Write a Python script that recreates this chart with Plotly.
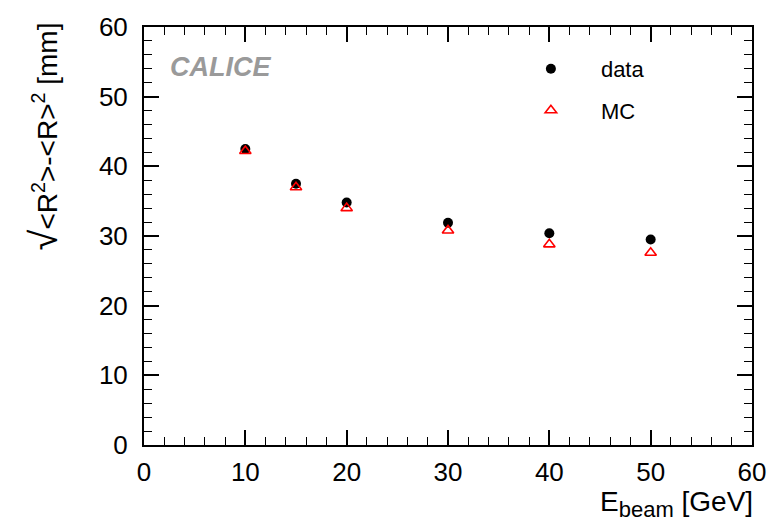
import plotly.graph_objects as go

energy = [10, 15, 20, 30, 40, 50]
data_vals = [42.5, 37.5, 34.8, 31.9, 30.4, 29.5]
mc_vals = [42.2, 37.0, 34.0, 30.8, 28.8, 27.6]

x_ticks = [0, 10, 20, 30, 40, 50, 60]
y_ticks = [0, 10, 20, 30, 40, 50, 60]

FONT = "Liberation Sans, Arial, sans-serif"

fig = go.Figure()
fig.add_trace(go.Scatter(
    x=energy, y=data_vals, mode="markers", name="data", legendgroup="a",
    marker=dict(symbol="circle", size=10, color="black"),
))
fig.add_trace(go.Scatter(
    x=energy, y=mc_vals, mode="markers", name="MC", legendgroup="b",
    marker=dict(symbol="triangle-up-open", size=10, color="red",
                line=dict(width=1.6, color="red")),
))

axis_common = dict(
    showgrid=False, zeroline=False, showline=True, linecolor="black",
    linewidth=2, mirror="allticks", ticks="inside", ticklen=15,
    tickwidth=1.5, tickcolor="black",
    tickfont=dict(family=FONT, size=26, color="black"),
    minor=dict(ticks="inside", ticklen=8, tickwidth=1.2, tickcolor="black", dtick=2),
)

fig.update_xaxes(range=[0, 60], tickvals=x_ticks, ticklabelstandoff=3, **axis_common)
fig.update_yaxes(range=[0, 60], tickvals=y_ticks, ticklabelstandoff=9, **axis_common)

fig.update_layout(
    width=780, height=523,
    margin=dict(l=144, r=28, t=20, b=78),
    paper_bgcolor="white", plot_bgcolor="white",
    font=dict(family=FONT, color="black"),
    showlegend=True,
    legend=dict(x=0.587, y=0.95, xanchor="left", yanchor="top",
                bgcolor="rgba(0,0,0,0)", font=dict(family=FONT, size=22),
                itemwidth=90, tracegroupgap=10),
    annotations=[
        dict(text="<b><i>CALICE</i></b>", xref="paper", yref="paper", x=0.04, y=0.905,
             xanchor="left", yanchor="middle", showarrow=False,
             font=dict(family=FONT, size=27, color="#9a9a9a")),
        dict(text="E<sub><span style='font-size:22px'>beam</span></sub> [GeV]", xref="paper", yref="paper",
             x=1.005, y=-0.14, xanchor="right", yanchor="middle", showarrow=False,
             font=dict(family=FONT, size=28)),
        dict(text="<span style='font-size:38px'>√</span>&lt;R<sup>2</sup>&gt;-&lt;R&gt;<sup>2</sup> [mm]",
             xref="paper", yref="paper",
             x=-0.165, y=1.015, xanchor="center", yanchor="top", textangle=-90,
             showarrow=False, font=dict(family=FONT, size=28)),
    ],
)

fig.write_html("out.html")
